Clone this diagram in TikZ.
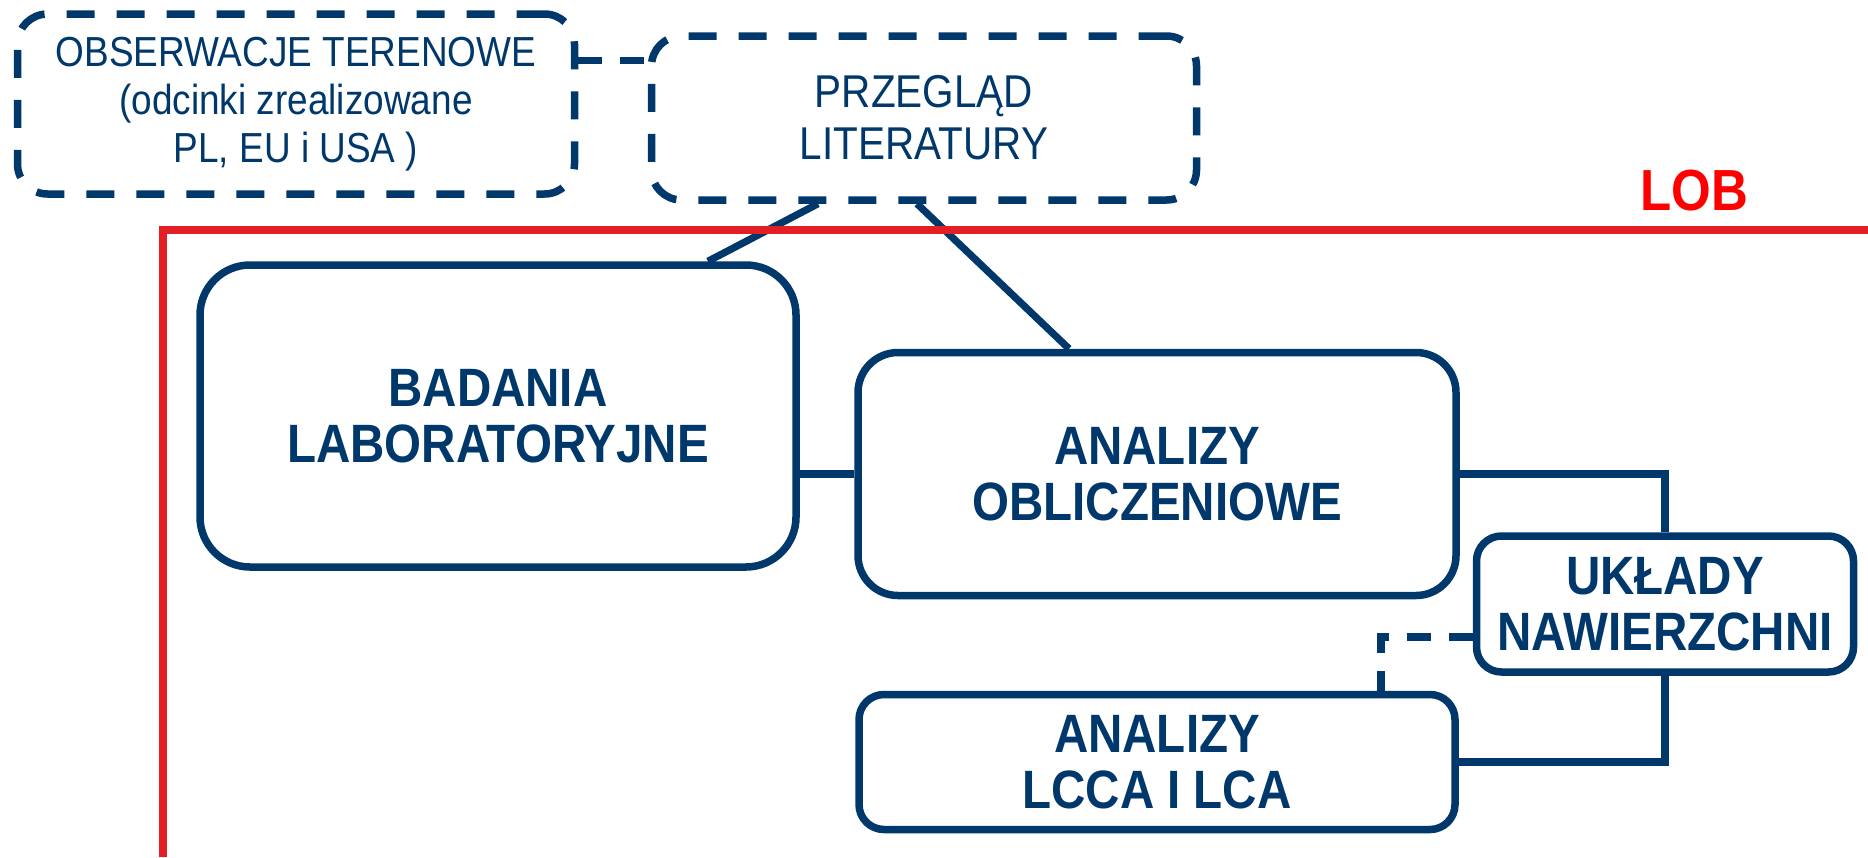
\documentclass[tikz,border=0pt]{standalone}
\usepackage{fontspec}
\setmainfont{Liberation Sans}[FakeStretch=0.88]
\usetikzlibrary{calc}
\definecolor{navy}{HTML}{00386B}
\definecolor{lobline}{HTML}{E31E24}
\definecolor{lobtext}{HTML}{FF0000}
\begin{document}
\begin{tikzpicture}[x=0.5pt,y=-0.5pt,
  box/.style={draw=navy,line width=3.75pt,rounded corners=#1,align=center,
    inner sep=0pt,text=navy,fill=white},
  solidbox/.style={box=#1,font=\bfseries\fontsize{27}{28}\selectfont},
  dashbox/.style={box=#1,dash pattern=on 14pt off 11pt},
  conn/.style={draw=navy,line width=3.6pt},
  dashline/.style={conn,dash pattern=on 12pt off 9pt}]
\useasboundingbox (0,0) rectangle (1868,857);
% nodes
\node[dashbox=15pt,minimum width=278.5pt,minimum height=90pt,
  font=\fontsize{21}{24}\selectfont] (O) at (296,104)
  {OBSERWACJE TERENOWE\\(odcinki zrealizowane\\PL, EU i USA )};
\node[dashbox=15pt,minimum width=272.5pt,minimum height=82pt,
  font=\fontsize{23}{26}\selectfont] (P) at (924,118)
  {PRZEGLĄD\\LITERATURY};
\node[solidbox=25pt,minimum width=298pt,minimum height=151pt] (B) at (498,416)
  {BADANIA\\LABORATORYJNE};
\node[solidbox=20pt,minimum width=299pt,minimum height=121.5pt] (A) at (1157,474)
  {ANALIZY\\OBLICZENIOWE};
\node[solidbox=12.5pt,minimum width=188.5pt,minimum height=68pt] (U) at (1665,604)
  {UKŁADY\\NAWIERZCHNI};
\node[solidbox=12.5pt,minimum width=298pt,minimum height=67.5pt] (L) at (1157,762)
  {ANALIZY\\LCCA I LCA};
\node[text=lobtext,font=\bfseries\fontsize{29}{30}\selectfont,inner sep=0pt] (lob) at (1694,191) {LOB};
% connectors
\draw[dashline] ($(O.north east)+(0,50)$) coordinate (oc) -- (oc -| P.west);
\draw[conn] ($(P.south)+(-106,0)$) -- ($(B.north)+(210,0)$);
\draw[conn] ($(P.south)+(-7,0)$) -- ($(A.north)+(-88,0)$);
\draw[conn] (A.west) -- (A.west -| B.east);
\draw[conn] (A.east) -| (U.north);
\draw[conn] (U.south) |- (L.east);
\draw[dashline] ($(U.west)+(0,33)$) -| ($(L.north)+(224,0)$);
% LOB frame
\draw[draw=lobline,line width=3.75pt] (163,857) -- (163,230) -- (1868,230);
\end{tikzpicture}
\end{document}
